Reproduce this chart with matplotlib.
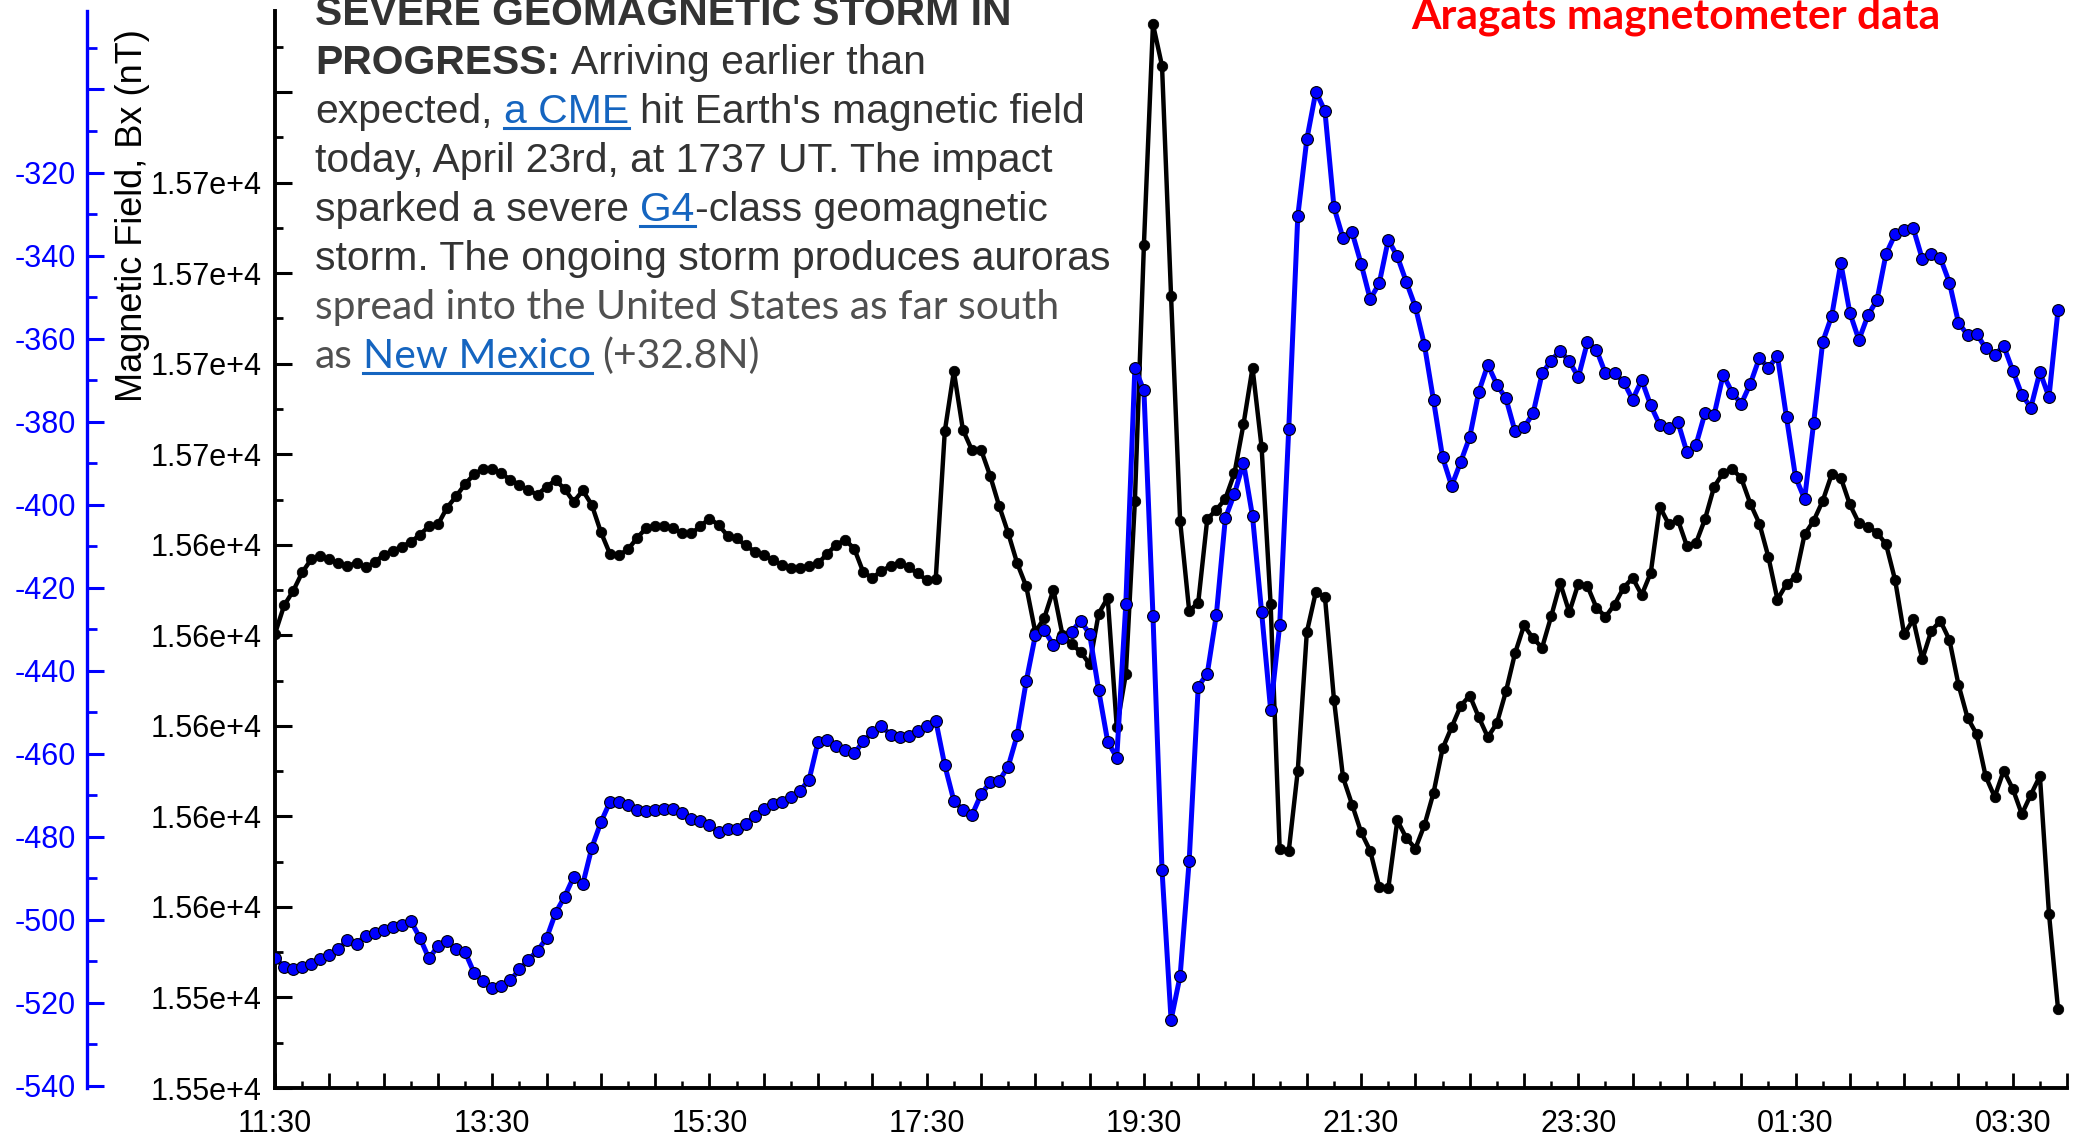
import numpy as np
import pandas as pd
import matplotlib
matplotlib.use("Agg")
import matplotlib.pyplot as plt
import matplotlib.dates as mdates
from matplotlib.lines import Line2D
from matplotlib.ticker import MultipleLocator, FuncFormatter
from matplotlib.transforms import IdentityTransform

plt.rcParams["font.family"] = "Liberation Sans"
plt.rcParams["axes.unicode_minus"] = False

# Aragats magnetometer, 5-minute samples from 2023-04-23 11:30 UT
total_nt = [
    15620.4, 15626.6, 15629.8, 15633.9, 15636.8, 15637.5, 15636.8, 15635.9, 15635.3, 15636.0,
    15635.0, 15636.1, 15637.8, 15638.6, 15639.6, 15640.6, 15642.2, 15644.1, 15644.5, 15648.2,
    15650.7, 15653.4, 15655.6, 15656.8, 15656.7, 15655.8, 15654.3, 15653.3, 15652.0, 15651.1,
    15652.8, 15654.3, 15652.3, 15649.5, 15652.0, 15648.8, 15642.8, 15638.0, 15637.7, 15639.0,
    15641.5, 15643.7, 15644.1, 15644.1, 15643.7, 15642.5, 15642.5, 15644.1, 15645.8, 15644.4,
    15642.0, 15641.4, 15639.9, 15638.5, 15637.7, 15636.7, 15635.5, 15634.9, 15634.9, 15635.3,
    15635.9, 15638.0, 15640.0, 15641.1, 15639.1, 15633.9, 15632.7, 15634.2, 15635.3, 15636.0,
    15635.0, 15633.7, 15632.2, 15632.5, 15665.1, 15678.3, 15665.4, 15660.9, 15661.0, 15655.3,
    15648.6, 15642.6, 15635.9, 15630.8, 15620.7, 15623.9, 15630.1, 15620.1, 15618.0, 15616.4,
    15613.6, 15624.8, 15628.3, 15599.7, 15611.4, 15649.6, 15706.3, 15755.0, 15745.8, 15694.9,
    15645.3, 15625.4, 15627.2, 15645.7, 15647.7, 15650.2, 15655.8, 15666.6, 15679.1, 15661.6,
    15626.9, 15572.8, 15572.3, 15590.1, 15620.7, 15629.6, 15628.5, 15605.8, 15588.6, 15582.6,
    15576.5, 15572.4, 15564.4, 15564.1, 15579.1, 15575.2, 15572.9, 15578.1, 15585.2, 15595.0,
    15599.7, 15604.4, 15606.7, 15601.9, 15597.5, 15600.6, 15607.6, 15616.0, 15622.2, 15619.3,
    15617.3, 15624.2, 15631.5, 15625.1, 15631.4, 15630.9, 15626.1, 15624.1, 15626.8, 15630.5,
    15632.7, 15628.9, 15633.8, 15648.4, 15644.5, 15645.5, 15639.7, 15640.4, 15645.7, 15652.8,
    15655.9, 15656.8, 15654.7, 15649.1, 15644.7, 15637.3, 15627.9, 15631.3, 15632.9, 15642.3,
    15645.3, 15649.7, 15655.6, 15654.8, 15648.9, 15644.8, 15644.0, 15642.7, 15640.1, 15632.2,
    15620.2, 15623.5, 15614.7, 15621.0, 15623.2, 15619.0, 15609.1, 15601.8, 15598.2, 15588.9,
    15584.3, 15590.1, 15586.1, 15580.5, 15584.8, 15588.9, 15558.5, 15537.5,
]

bx_nt = [
    -509.1, -511.3, -511.8, -511.4, -510.7, -509.4, -508.5, -507.0, -504.9, -505.8,
    -503.8, -503.2, -502.5, -501.7, -501.3, -500.3, -504.3, -509.3, -506.3, -505.2,
    -507.1, -507.8, -512.8, -514.8, -516.4, -515.9, -514.6, -511.9, -509.6, -507.4,
    -504.4, -498.3, -494.4, -489.6, -491.4, -482.6, -476.5, -471.6, -471.6, -472.4,
    -473.5, -473.8, -473.6, -473.3, -473.3, -474.3, -475.7, -476.3, -477.2, -478.8,
    -478.1, -478.1, -476.9, -475.0, -473.4, -472.1, -471.5, -470.4, -468.9, -466.3,
    -457.1, -456.7, -458.2, -459.2, -459.9, -457.0, -454.7, -453.4, -455.4, -456.0,
    -455.7, -454.5, -453.4, -452.0, -462.8, -471.3, -473.5, -474.8, -469.8, -466.9,
    -466.5, -463.1, -455.5, -442.5, -431.5, -430.3, -433.8, -432.2, -430.6, -428.0,
    -431.1, -444.7, -457.1, -460.9, -423.9, -367.1, -372.5, -426.8, -488.0, -524.1,
    -513.5, -485.8, -443.8, -440.7, -426.6, -403.2, -397.4, -389.9, -402.8, -425.8,
    -449.4, -429.0, -381.8, -330.5, -312.0, -300.5, -305.2, -328.4, -335.8, -334.4,
    -342.0, -350.5, -346.7, -336.2, -340.2, -346.4, -352.4, -361.6, -374.9, -388.6,
    -395.5, -389.7, -383.7, -372.8, -366.3, -371.1, -374.4, -382.3, -381.4, -378.0,
    -368.4, -365.3, -362.9, -365.5, -369.3, -360.9, -362.7, -368.4, -368.4, -370.4,
    -374.7, -370.0, -376.1, -380.8, -381.5, -380.1, -387.4, -385.6, -377.9, -378.4,
    -368.7, -373.0, -375.7, -370.9, -364.7, -367.0, -364.2, -379.0, -393.4, -398.6,
    -380.3, -360.8, -354.5, -341.8, -353.8, -360.3, -354.4, -350.7, -339.6, -334.9,
    -333.9, -333.4, -340.8, -339.7, -340.6, -346.5, -356.2, -359.1, -358.8, -362.3,
    -363.9, -361.8, -367.7, -373.5, -376.6, -368.0, -374.1, -353.1,
]

start = pd.Timestamp("2023-04-23 11:30")
times = pd.date_range(start, periods=len(total_nt), freq="5min")

W, H = 2076, 1140
fig = plt.figure(figsize=(W / 100, H / 100), dpi=100)
ax = fig.add_axes([0.1325, 0.0456, 0.8632, 0.9451])

ax.plot(times, total_nt, color="black", lw=3.2, marker="o", ms=7.5,
        mfc="black", mec="black", mew=0.6, zorder=3)
ax.set_ylim(15520, 15758)
ax.set_xlim(start, start + pd.Timedelta(hours=16.5))

for s in ("top", "right"):
    ax.spines[s].set_visible(False)
for s in ("left", "bottom"):
    ax.spines[s].set_linewidth(2.8)


def hhmm(v, pos):
    d = mdates.num2date(v)
    m = int(round(d.hour * 60 + d.minute + d.second / 60))
    return f"{(m // 60) % 24:02d}:{m % 60:02d}" if m % 120 == 90 else ""


ax.xaxis.set_major_locator(mdates.MinuteLocator(byminute=[0, 30]))
ax.xaxis.set_minor_locator(mdates.MinuteLocator(byminute=[15, 45]))
ax.xaxis.set_major_formatter(FuncFormatter(hhmm))
ax.yaxis.set_major_locator(MultipleLocator(20))
ax.yaxis.set_minor_locator(MultipleLocator(10))
ax.yaxis.set_major_formatter(
    FuncFormatter(lambda v, p: f"{v / 1e4:.2f}e+4" if v < 15730 else ""))
ax.tick_params(axis="x", which="major", direction="in", length=11, width=2,
               pad=15, labelsize=22)
ax.tick_params(axis="x", which="minor", direction="in", length=5, width=1.8)
ax.tick_params(axis="y", which="major", direction="in", length=12, width=2.2,
               pad=10, labelsize=22)
ax.tick_params(axis="y", which="minor", direction="in", length=6, width=2)

# Bx on its own blue axis, offset to the left
ax2 = ax.twinx()
ax2.plot(times, bx_nt, color="#0000FF", lw=3.6, marker="o", ms=8.5,
         mfc="#0000FF", mec="black", mew=0.8, zorder=3)
ax2.set_ylim(-540.5, -281)
for s in ("top", "right", "bottom"):
    ax2.spines[s].set_visible(False)
ax2.spines["left"].set_visible(True)
ax2.spines["left"].set_position(("axes", -0.1049))
ax2.spines["left"].set_color("#0000FF")
ax2.spines["left"].set_linewidth(2.4)
ax2.yaxis.set_ticks_position("left")
ax2.yaxis.set_major_locator(MultipleLocator(20))
ax2.yaxis.set_minor_locator(MultipleLocator(10))
ax2.yaxis.set_major_formatter(FuncFormatter(lambda v, p: f"{v:.0f}" if v < -310 else ""))
ax2.tick_params(axis="y", which="major", direction="in", length=12, width=2.2,
                pad=8, labelsize=22, colors="#0000FF")
ax2.tick_params(axis="y", which="minor", direction="in", length=7, width=2,
                colors="#0000FF")

fig.text(133 / W, 1 - 216 / H, "Magnetic Field, Bx (nT)", rotation=90,
         ha="center", va="center", fontsize=26, color="black")

fig.text(1411, H - 29, "Aragats magnetometer data", transform=IdentityTransform(),
         fontfamily="Lato", fontweight="bold", fontsize=30.6, color="#FF0000",
         va="baseline")

# news snippet pasted over the upper left of the plot
DARK, GREY, LINK = "#333333", "#505050", "#1565C0"
renderer = fig.canvas.get_renderer()


def space_width(family, size):
    a = fig.text(0, 0, "x x", fontfamily=family, fontsize=size)
    b = fig.text(0, 0, "xx", fontfamily=family, fontsize=size)
    w = a.get_window_extent(renderer).width - b.get_window_extent(renderer).width
    a.remove()
    b.remove()
    return w


def rich_line(x, base, parts, family, size, color):
    gap = space_width(family, size)
    y = H - base
    for text, kind, space in parts:
        t = fig.text(x, y, text, transform=IdentityTransform(), fontfamily=family,
                     fontsize=size, fontweight="bold" if kind == "b" else "normal",
                     color=LINK if kind == "a" else color, va="baseline")
        w = t.get_window_extent(renderer).width
        if kind == "a":
            fig.lines.append(Line2D([x, x + w], [y - 5, y - 5], transform=IdentityTransform(),
                                    color=LINK, lw=2.2))
        x += w + (gap if space else 0)


X0, B0, LH = 315, 25, 49
arial = [
    [("SEVERE GEOMAGNETIC STORM IN", "b", False)],
    [("PROGRESS:", "b", True), ("Arriving earlier than", "", False)],
    [("expected,", "", True), ("a CME", "a", True), ("hit Earth's magnetic field", "", False)],
    [("today, April 23rd, at 1737 UT. The impact", "", False)],
    [("sparked a severe", "", True), ("G4", "a", False), ("-class geomagnetic", "", False)],
    [("storm. The ongoing storm produces auroras", "", False)],
]
for k, parts in enumerate(arial):
    rich_line(X0, B0 + LH * k, parts, "Liberation Sans", 29.4, DARK)

lato = [
    [("spread into the United States as far south", "", False)],
    [("as", "", True), ("New Mexico", "a", True), ("(+32.8N)", "", False)],
]
for k, parts in enumerate(lato):
    rich_line(X0, B0 + LH * (k + 6), parts, "Lato", 29.4, GREY)

fig.savefig("out.png", dpi=100)
